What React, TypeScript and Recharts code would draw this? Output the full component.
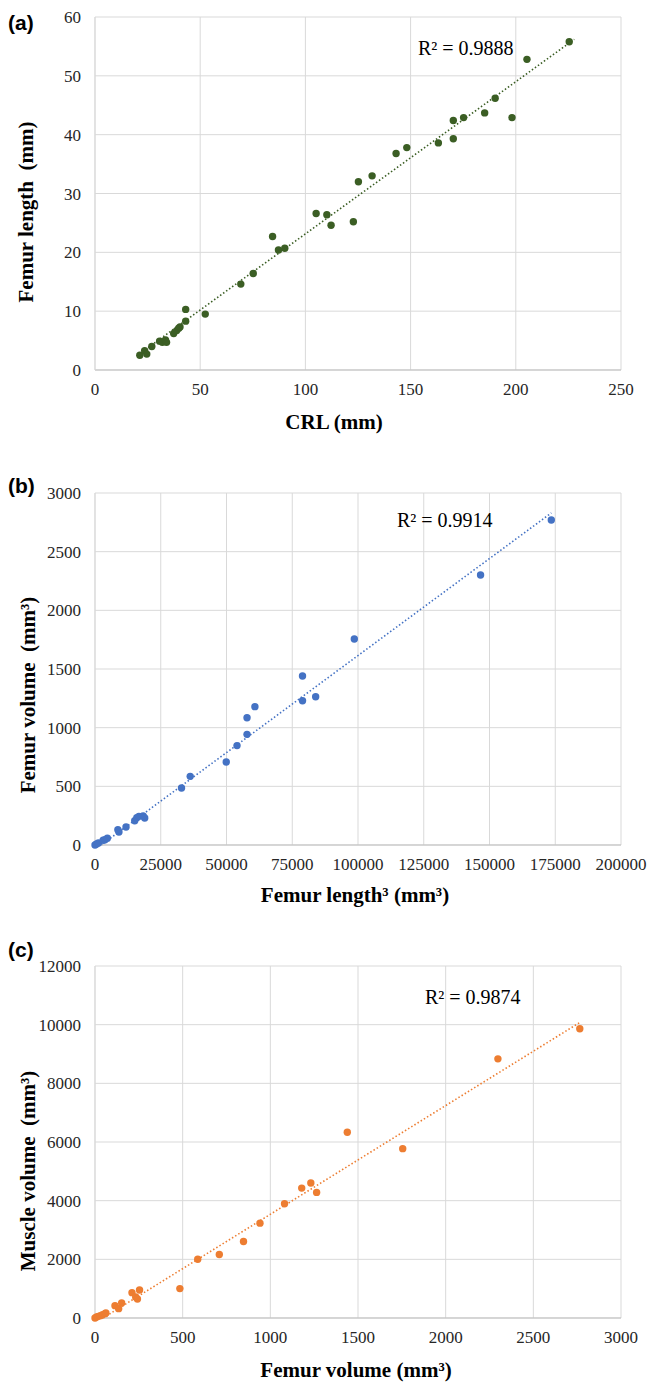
import React from 'react';
import { ScatterChart, Scatter, XAxis, YAxis, CartesianGrid, ReferenceLine } from 'recharts';

// (a) CRL vs femur length
const crl = [21.3, 23.6, 24.6, 27, 30.7, 32, 33.5, 34, 37.4, 38.8, 39.8, 40.4, 43.1, 43.1, 52.4, 69.3, 75.2, 84.4, 87.2, 90.2, 105.1, 110.2, 112.2, 122.8, 125.2, 131.7, 143.1, 148.2, 163.2, 170.3, 170.3, 175.2, 185.2, 190.2, 198.2, 205.3, 225.4];
const femurLength = [2.5, 3.3, 2.7, 4.0, 4.9, 4.7, 5.1, 4.7, 6.2, 6.7, 7.1, 7.3, 8.3, 10.3, 9.5, 14.6, 16.4, 22.7, 20.4, 20.7, 26.6, 26.4, 24.6, 25.2, 32.0, 33.0, 36.8, 37.8, 38.6, 39.3, 42.4, 42.9, 43.7, 46.2, 42.9, 52.8, 55.8];
const trendAX = [21, 227.8];
const trendAY = [2.7, 56.2];

// (b) femur length^3 vs femur volume
const femurLength3 = [0, 600, 1300, 3100, 3800, 4700, 8700, 9100, 11800, 15100, 15900, 16700, 18300, 18900, 32900, 36200, 49900, 54000, 57800, 57800, 60800, 78900, 78900, 83900, 98600, 146600, 173500];
const femurVolumeB = [0, 8, 17, 40, 45, 57, 131, 111, 153, 207, 233, 244, 247, 230, 486, 585, 707, 847, 943, 1085, 1179, 1440, 1230, 1264, 1756, 2301, 2770];
const trendBX = [2400, 173500];
const trendBY = [0.5, 2830];

// (c) femur volume vs muscle volume
const femurVolumeC = [0, 9, 19, 31, 43, 57, 62, 114, 135, 152, 211, 232, 242, 254, 484, 586, 709, 847, 941, 1081, 1179, 1231, 1264, 1439, 1755, 2298, 2765];
const muscleVolume = [0, 34, 57, 80, 114, 148, 171, 421, 319, 512, 865, 717, 649, 956, 1002, 2004, 2163, 2607, 3233, 3894, 4429, 4600, 4281, 6330, 5773, 8835, 9860];
const trendCX = [46, 2765];
const trendCY = [0, 10076];

const ticksA = { x: [0, 50, 100, 150, 200, 250], y: [0, 10, 20, 30, 40, 50, 60] };
const ticksB = { x: [0, 25000, 50000, 75000, 100000, 125000, 150000, 175000, 200000], y: [0, 500, 1000, 1500, 2000, 2500, 3000] };
const ticksC = { x: [0, 500, 1000, 1500, 2000, 2500, 3000], y: [0, 2000, 4000, 6000, 8000, 10000, 12000] };

const serif = '"Liberation Serif", "Times New Roman", serif';
const sans = '"Liberation Sans", Arial, sans-serif';

// tick text drawn by hand so the serif font sticks
const XTick = ({ x, y, payload }: any) => (
    <text x={x} y={y + 13} dy="0.71em" textAnchor="middle" style={{ fontFamily: serif, fontSize: 17 }} fill="#262626">
        {payload.value}
    </text>
);
const YTick = ({ x, y, payload }: any) => (
    <text x={x - 14} y={y} dy="0.355em" textAnchor="end" style={{ fontFamily: serif, fontSize: 17 }} fill="#262626">
        {payload.value}
    </text>
);

interface PanelProps {
    top: number;
    height: number;
    marginTop: number;
    xs: number[];
    ys: number[];
    color: string;
    xTicks: number[];
    yTicks: number[];
    trendX: number[];
    trendY: number[];
}

function Panel({ top, height, marginTop, xs, ys, color, xTicks, yTicks, trendX, trendY }: PanelProps) {
    const data = xs.map((x, i) => ({ x, y: ys[i] }));
    return (
        <div style={{ position: 'absolute', left: 0, top, width: 649, height }}>
            <ScatterChart width={649} height={height} margin={{ top: marginTop, right: 28, bottom: 0, left: 35 }}>
                <CartesianGrid stroke="#d9d9d9" />
                <XAxis
                    type="number"
                    dataKey="x"
                    domain={[xTicks[0], xTicks[xTicks.length - 1]]}
                    ticks={xTicks}
                    interval={0}
                    height={30}
                    tickSize={0}
                    tickMargin={0}
                    axisLine={{ stroke: '#bfbfbf' }}
                    tick={<XTick />}
                />
                <YAxis
                    type="number"
                    dataKey="y"
                    domain={[yTicks[0], yTicks[yTicks.length - 1]]}
                    ticks={yTicks}
                    interval={0}
                    width={60}
                    tickSize={0}
                    tickMargin={0}
                    axisLine={{ stroke: '#d9d9d9' }}
                    tick={<YTick />}
                />
                <ReferenceLine
                    segment={[{ x: trendX[0], y: trendY[0] }, { x: trendX[1], y: trendY[1] }]}
                    stroke={color}
                    strokeWidth={1.6}
                    strokeDasharray="1.5 2.2"
                />
                <Scatter
                    data={data}
                    fill={color}
                    isAnimationActive={false}
                    shape={(p: any) => <circle cx={p.cx} cy={p.cy} r={3.7} fill={color} />}
                />
            </ScatterChart>
        </div>
    );
}

const abs = (left: number, top: number, style: React.CSSProperties, text: string, center = true) => (
    <div
        style={{
            position: 'absolute',
            left,
            top,
            whiteSpace: 'pre',
            lineHeight: 1,
            transform: center ? 'translate(-50%, -50%)' : 'translateY(-50%)',
            ...style,
        }}
    >
        {text}
    </div>
);

const titleStyle: React.CSSProperties = { fontFamily: serif, fontWeight: 'bold', fontSize: 21, color: '#000' };
const yTitle = (x: number, y: number, text: string) => (
    <div
        style={{
            position: 'absolute',
            left: x,
            top: y,
            whiteSpace: 'pre',
            lineHeight: 1,
            transform: 'translate(-50%, -50%) rotate(-90deg)',
            ...titleStyle,
        }}
    >
        {text}
    </div>
);
const labelStyle: React.CSSProperties = { fontFamily: sans, fontWeight: 'bold', fontSize: 21, color: '#000' };
const r2Style: React.CSSProperties = { fontFamily: serif, fontSize: 20, color: '#000' };

export default function App() {
    return (
        <div style={{ position: 'absolute', left: 0, top: 0, width: 649, height: 1382, background: '#fff', overflow: 'hidden' }}>
            <Panel top={0} height={400} marginTop={17} xs={crl} ys={femurLength} color="#3b5e24"
                xTicks={ticksA.x} yTicks={ticksA.y} trendX={trendAX} trendY={trendAY} />
            <Panel top={470} height={405} marginTop={23} xs={femurLength3} ys={femurVolumeB} color="#4472c4"
                xTicks={ticksB.x} yTicks={ticksB.y} trendX={trendBX} trendY={trendBY} />
            <Panel top={940} height={408} marginTop={26} xs={femurVolumeC} ys={muscleVolume} color="#ed7d31"
                xTicks={ticksC.x} yTicks={ticksC.y} trendX={trendCX} trendY={trendCY} />

            {abs(8, 22, labelStyle, '(a)', false)}
            {abs(8, 485, labelStyle, '(b)', false)}
            {abs(8, 949, labelStyle, '(c)', false)}

            {abs(418, 48, r2Style, 'R² = 0.9888', false)}
            {abs(397, 520, r2Style, 'R² = 0.9914', false)}
            {abs(425, 997, r2Style, 'R² = 0.9874', false)}

            {abs(334, 422, titleStyle, 'CRL (mm)')}
            {abs(355, 895, titleStyle, 'Femur length³ (mm³)')}
            {abs(356, 1370, titleStyle, 'Femur volume (mm³)')}

            {yTitle(26, 212, 'Femur length  (mm)')}
            {yTitle(28, 695, 'Femur volume  (mm³)')}
            {yTitle(28, 1171, 'Muscle volume  (mm³)')}
        </div>
    );
}
